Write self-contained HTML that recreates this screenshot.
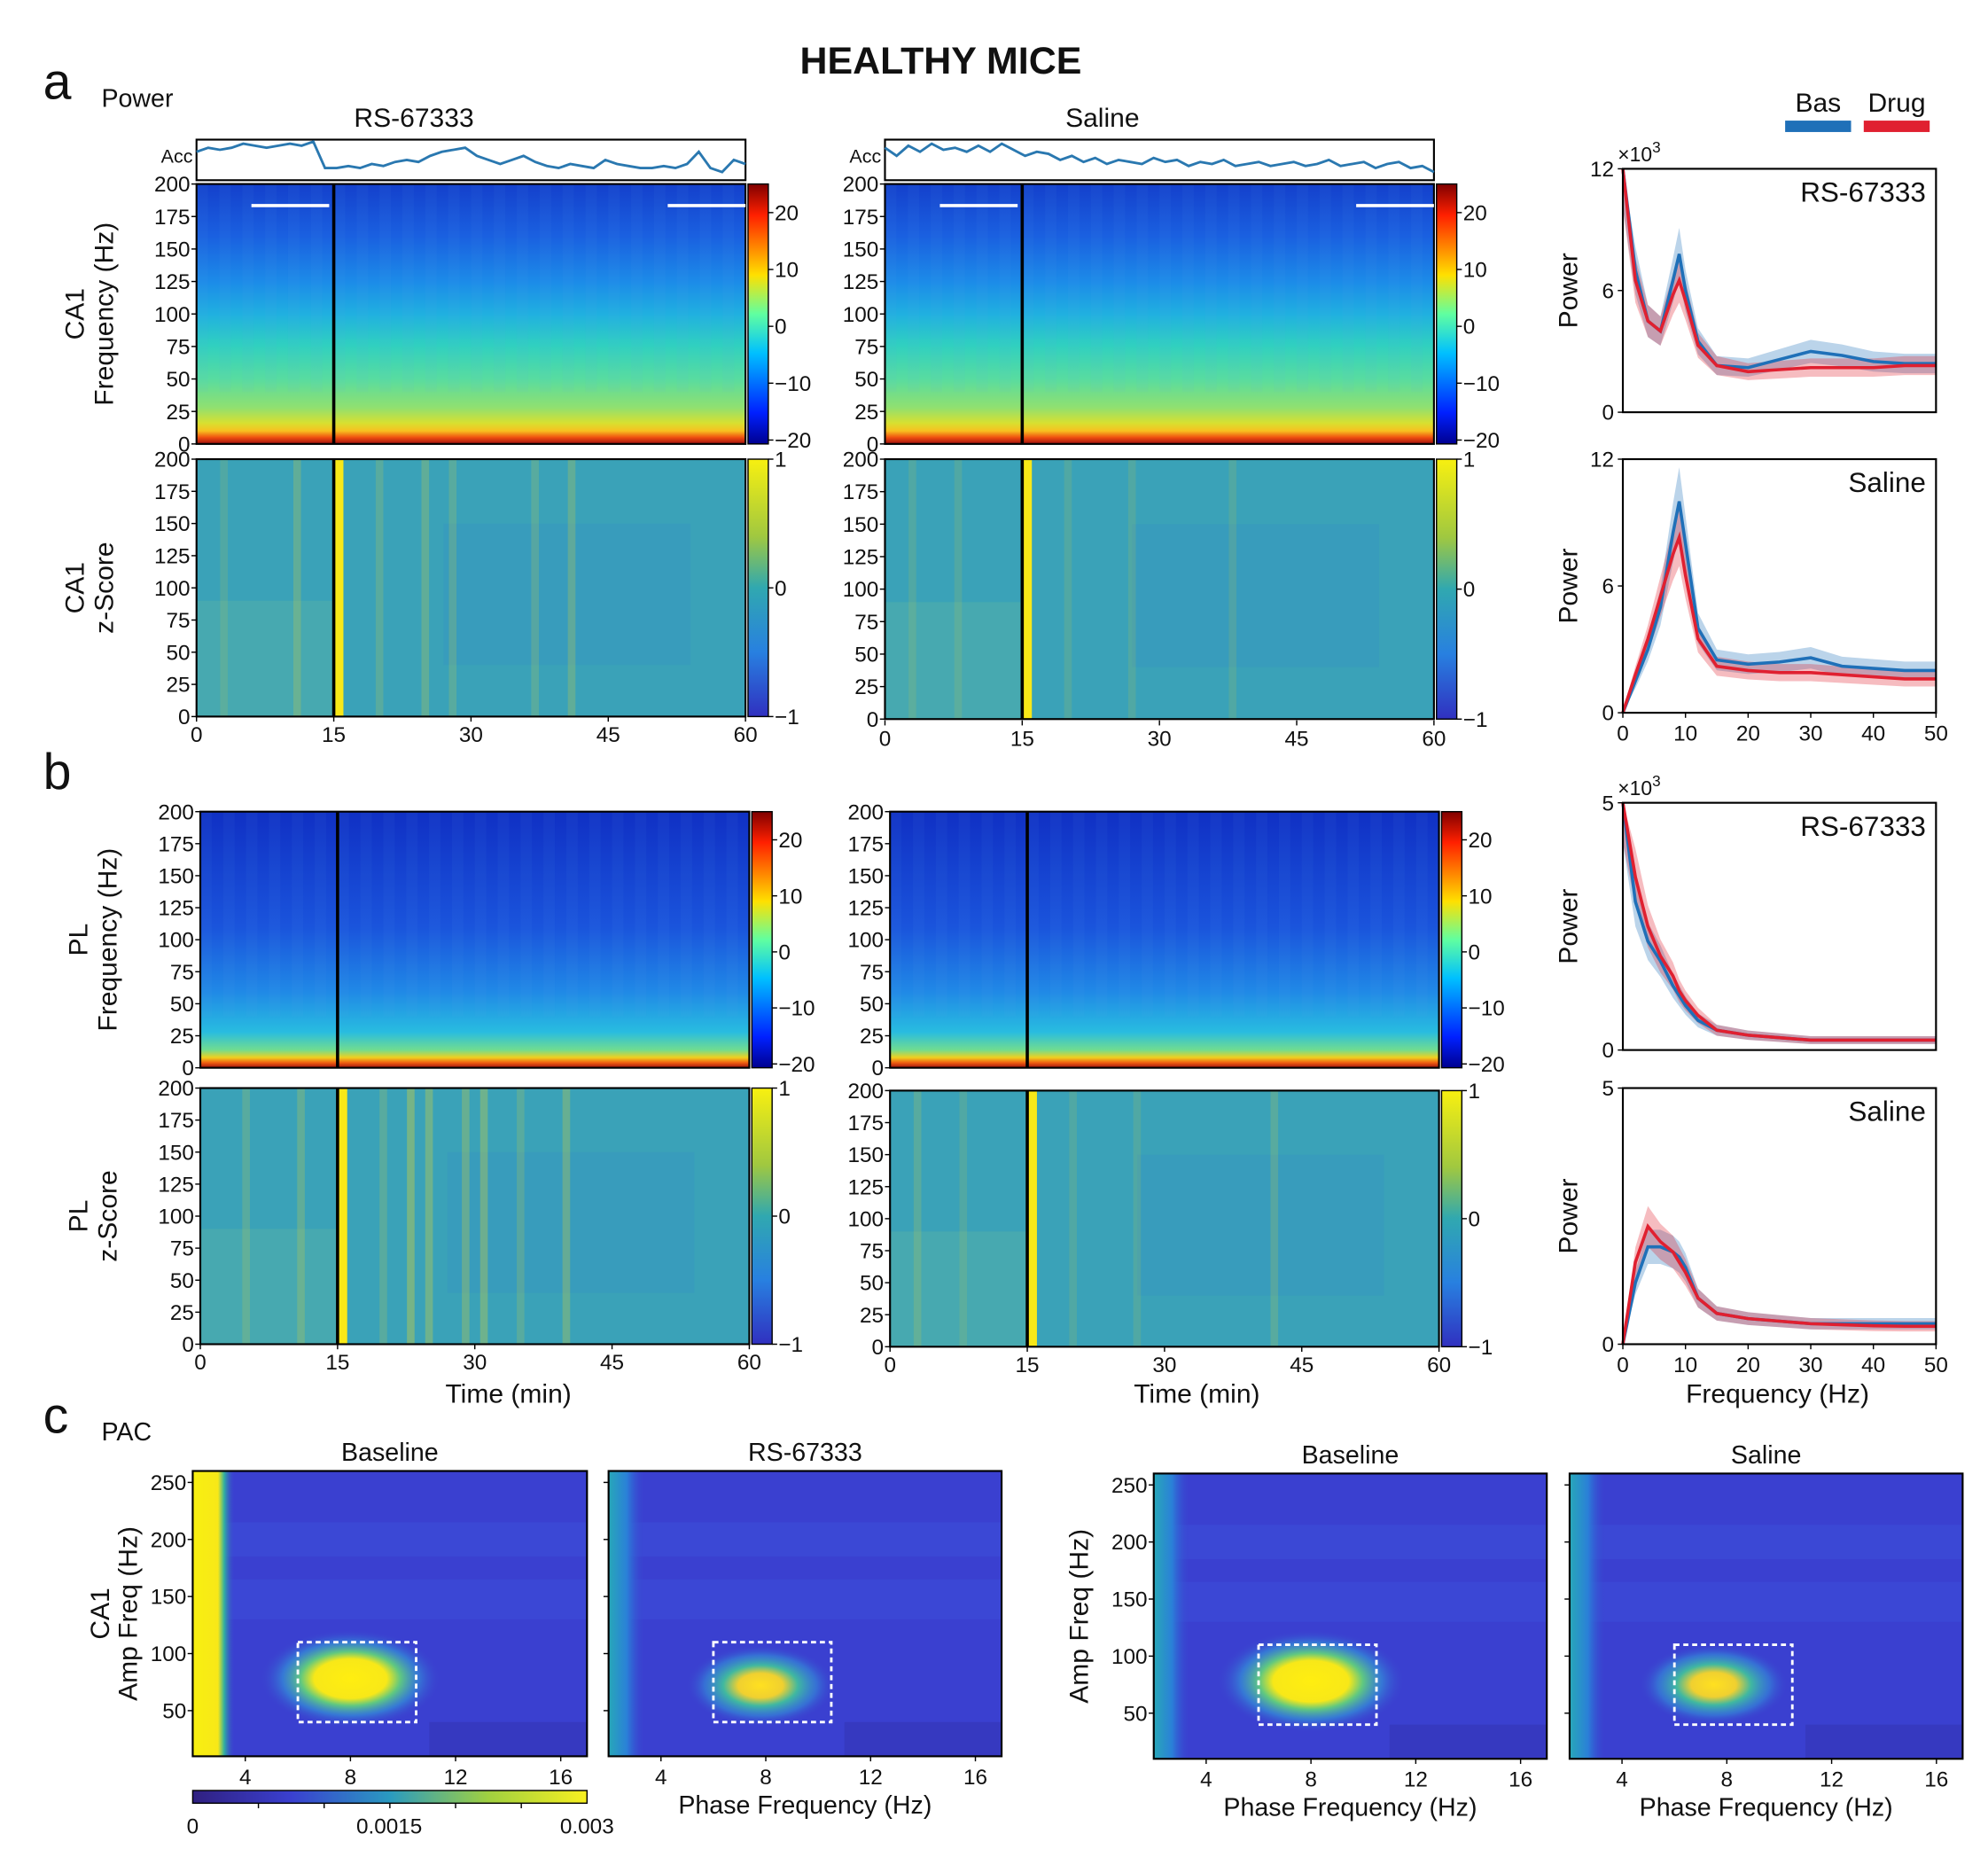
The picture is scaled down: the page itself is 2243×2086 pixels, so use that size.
<!DOCTYPE html>
<html><head><meta charset="utf-8"><style>
html,body{margin:0;padding:0;background:#fff}
svg{display:block}
text{font-family:"Liberation Sans",sans-serif;fill:#111}
</style></head><body>
<svg id="fig" width="2243" height="2086" viewBox="0 0 1568 1458" xmlns="http://www.w3.org/2000/svg">
<defs>
<linearGradient id="gCA1" x1="0" y1="0" x2="0" y2="1">
<stop offset="0" stop-color="#1440cc"/><stop offset="0.2" stop-color="#1a60e0"/><stop offset="0.38" stop-color="#1c8ce8"/><stop offset="0.5" stop-color="#20b0e0"/><stop offset="0.62" stop-color="#30d0c0"/><stop offset="0.75" stop-color="#58dca0"/><stop offset="0.86" stop-color="#90e070"/><stop offset="0.92" stop-color="#d8e030"/><stop offset="0.95" stop-color="#f8c020"/><stop offset="0.975" stop-color="#f05010"/><stop offset="1" stop-color="#a01010"/></linearGradient>
<linearGradient id="gPL" x1="0" y1="0" x2="0" y2="1">
<stop offset="0" stop-color="#1030c4"/><stop offset="0.45" stop-color="#1a54dc"/><stop offset="0.7" stop-color="#2088e6"/><stop offset="0.86" stop-color="#28bce0"/><stop offset="0.93" stop-color="#70dc90"/><stop offset="0.96" stop-color="#f0d020"/><stop offset="0.98" stop-color="#f06010"/><stop offset="1" stop-color="#a01010"/></linearGradient>
<linearGradient id="gJet" x1="0" y1="0" x2="0" y2="1">
<stop offset="0" stop-color="#800000"/><stop offset="0.12" stop-color="#ff2000"/><stop offset="0.35" stop-color="#ffe000"/><stop offset="0.5" stop-color="#60ffa0"/><stop offset="0.65" stop-color="#00c0ff"/><stop offset="0.88" stop-color="#0020ff"/><stop offset="1" stop-color="#000090"/></linearGradient>
<linearGradient id="gZ" x1="0" y1="0" x2="0" y2="1">
<stop offset="0" stop-color="#f8f010"/><stop offset="0.3" stop-color="#a0c840"/><stop offset="0.5" stop-color="#30a8b0"/><stop offset="0.75" stop-color="#2880e0"/><stop offset="1" stop-color="#3030c0"/></linearGradient>
<linearGradient id="gPac" x1="0" y1="0" x2="1" y2="0">
<stop offset="0" stop-color="#302080"/><stop offset="0.25" stop-color="#3a40d0"/><stop offset="0.5" stop-color="#2a9ac0"/><stop offset="0.75" stop-color="#a0d040"/><stop offset="1" stop-color="#f8f020"/></linearGradient>
<radialGradient id="blob1"><stop offset="0" stop-color="#ffee10"/><stop offset="0.4" stop-color="#f8e818"/><stop offset="0.55" stop-color="#60c880"/><stop offset="0.75" stop-color="#3490d8" stop-opacity="0.7"/><stop offset="1" stop-color="#3a40d0" stop-opacity="0"/></radialGradient>
<radialGradient id="blob2"><stop offset="0" stop-color="#ffe020"/><stop offset="0.3" stop-color="#f0d030"/><stop offset="0.5" stop-color="#40b8a0"/><stop offset="0.75" stop-color="#3490d8" stop-opacity="0.6"/><stop offset="1" stop-color="#3a40d0" stop-opacity="0"/></radialGradient>
<linearGradient id="pacEdge1" x1="0" y1="0" x2="1" y2="0"><stop offset="0" stop-color="#f8f010"/><stop offset="0.6" stop-color="#f8e818"/><stop offset="0.75" stop-color="#30b0a0"/><stop offset="1" stop-color="#3a40d0" stop-opacity="0"/></linearGradient>
<linearGradient id="pacEdge2" x1="0" y1="0" x2="1" y2="0"><stop offset="0" stop-color="#28a8b8"/><stop offset="0.5" stop-color="#2a80d8"/><stop offset="1" stop-color="#3a40d0" stop-opacity="0"/></linearGradient>
</defs>
<text x="742" y="58" text-anchor="middle" font-size="30" font-weight="bold">HEALTHY MICE</text>
<text x="34" y="78" font-size="40">a</text>
<text x="80" y="84" font-size="20">Power</text>
<text x="34" y="622" font-size="40">b</text>
<text x="34" y="1130" font-size="40">c</text>
<text x="80" y="1136" font-size="20">PAC</text>
<g id="heat"></g>
<g id="lines"></g>
<g id="pac"></g>
</svg>
<script>
// ---- spectral line chart data ----
const freqs=[0,2,4,6,8,9,10,12,15,20,25,30,35,40,45,50];
const ca1RsBas=[12,7,4.5,4,6.5,7.8,6,3.5,2.3,2.2,2.6,3,2.8,2.5,2.4,2.4];
const ca1RsDrug=[12,6.5,4.5,4,5.8,6.5,5.5,3.3,2.3,2,2.1,2.2,2.2,2.2,2.3,2.3];
const ca1SalBas=[0,1.5,3,5,8.5,10,8,4,2.5,2.3,2.4,2.6,2.2,2.1,2,2];
const ca1SalDrug=[0,1.8,3.5,5.5,7.5,8.3,6.5,3.5,2.2,2,1.9,1.9,1.8,1.7,1.6,1.6];
const plRsBas=[5,3,2.2,1.8,1.3,1.1,0.9,0.6,0.4,0.3,0.25,0.2,0.2,0.2,0.2,0.2];
const plRsDrug=[5,3.5,2.5,1.9,1.5,1.2,1,0.7,0.4,0.3,0.25,0.2,0.2,0.2,0.2,0.2];
const plSalBas=[0,1.2,1.9,1.9,1.8,1.7,1.5,0.9,0.6,0.5,0.45,0.4,0.4,0.4,0.4,0.4];
const plSalDrug=[0,1.6,2.3,2.0,1.8,1.6,1.4,0.9,0.6,0.5,0.45,0.4,0.38,0.36,0.35,0.35];
const xTicks=[0,10,20,30,40,50];
// ---- heatmap annotation data ----
const timeTicks=[0,15,30,45,60];
const freqTicks=[0,25,50,75,100,125,150,175,200];
const powerCbTicks=[20,10,0,-10,-20];
const zCbTicks=[1,0,-1];
const accRs=[0.7,0.8,0.75,0.8,0.9,0.85,0.8,0.85,0.9,0.85,0.95,0.3,0.3,0.35,0.3,0.4,0.35,0.45,0.5,0.45,0.6,0.7,0.75,0.8,0.6,0.5,0.4,0.5,0.6,0.45,0.35,0.3,0.4,0.35,0.3,0.5,0.4,0.35,0.3,0.3,0.35,0.3,0.4,0.7,0.3,0.2,0.5,0.4];
const accSal=[0.8,0.6,0.85,0.7,0.9,0.75,0.8,0.7,0.85,0.7,0.9,0.75,0.6,0.7,0.65,0.5,0.6,0.45,0.55,0.4,0.5,0.45,0.4,0.55,0.45,0.5,0.35,0.45,0.4,0.5,0.35,0.4,0.45,0.35,0.4,0.45,0.35,0.4,0.5,0.35,0.4,0.45,0.3,0.4,0.45,0.3,0.35,0.2];
const zStripesCA1Rs=[[3,0.3],[11,0.5],[15.5,1],[20,0.4],[25,0.5],[28,0.4],[37,0.4],[41,0.5]];
const zStripesCA1Sal=[[3,0.3],[8,0.3],[15.5,1],[20,0.3],[27,0.3],[38,0.3]];
const zStripesPLRs=[[5,0.4],[11,0.5],[15.5,1],[20,0.4],[23,0.8],[25,0.7],[29,0.6],[31,0.7],[35,0.4],[40,0.6]];
const zStripesPLSal=[[3,0.4],[8,0.3],[15.5,1],[20,0.3],[27,0.3],[42,0.4]];
const pacXTicks=[4,8,12,16];
const pacYTicks=[50,100,150,200,250];
const pacPeaks=[{f:8,a:78,s:1.15},{f:7.8,a:72,s:0.95},{f:8,a:78,s:1.2},{f:7.5,a:75,s:0.95}];

const NS="http://www.w3.org/2000/svg";
function mk(p,t,a,txt){const e=document.createElementNS(NS,t);for(const k in a)e.setAttribute(k,a[k]);if(txt!==undefined)e.textContent=txt;p.appendChild(e);return e;}
const heat=document.getElementById('heat'),lines=document.getElementById('lines'),pac=document.getElementById('pac');

function spectro(x,y,w,h,kind,stripes,name,yTitle1,yTitle2){
  const g=mk(heat,'g',{});
  
  
  const tx=t=>x+t/60*w, fy=f=>y+h-f/200*h;
  if(kind==='z'){
    mk(g,'rect',{x:x,y:y,width:w,height:h,fill:'#3aa2b8'});
    mk(g,'rect',{x:x,y:y+h*0.55,width:w*0.25,height:h*0.45,fill:'#60b8a0',opacity:0.35});
    mk(g,'rect',{x:x+w*0.45,y:y+h*0.25,width:w*0.45,height:h*0.55,fill:'#3080d8',opacity:0.15});
    stripes.forEach(s=>{const r=mk(g,'rect',{x:tx(s[0])-(s[1]>0.9?4:3),y:y,width:s[1]>0.9?8:6,height:h,fill:s[1]>0.9?'#f8e818':'#b8c850',opacity:s[1]>0.9?1:s[1]*0.6});});
  } else {
    mk(g,'rect',{x:x,y:y,width:w,height:h,fill:kind==='ca1'?'url(#gCA1)':'url(#gPL)'});
    for(let i=0;i<24;i++){mk(g,'rect',{x:x+i*w/24,y:y,width:w/48,height:h*0.8,fill:'#60b0f0',opacity:0.06});}
  }
  mk(g,'line',{x1:tx(15),y1:y,x2:tx(15),y2:y+h,stroke:'#000','stroke-width':2.5});
  mk(g,'rect',{x:x,y:y,width:w,height:h,fill:'none',stroke:'#000','stroke-width':1.5});
  freqTicks.forEach(f=>{mk(g,'line',{x1:x-4,y1:fy(f),x2:x,y2:fy(f),stroke:'#000'});
    const t=mk(g,'text',{x:x-5,y:fy(f)+6,'text-anchor':'end','font-size':17},String(f));});
  const yt=mk(g,'text',{transform:`translate(${x-85},${y+h/2}) rotate(-90)`,'text-anchor':'middle','font-size':21},'');
  
  if(yTitle1){mk(yt,'tspan',{x:0,dy:-4},yTitle1);mk(yt,'tspan',{x:0,dy:23},yTitle2);}
  const cx=x+w+2,cw=16;
  mk(g,'rect',{x:cx,y:y,width:cw,height:h,fill:kind==='z'?'url(#gZ)':'url(#gJet)'});
  mk(g,'rect',{x:cx,y:y,width:cw,height:h,fill:'none',stroke:'#000','stroke-width':1});
  const ticks=kind==='z'?zCbTicks:powerCbTicks, lo=ticks[ticks.length-1], hi=ticks[0];
  ticks.forEach(v=>{const yy=kind==='z'? y+(hi-v)/(hi-lo)*h : y+h*0.11+(hi-v)/(hi-lo)*h*0.875;
    mk(g,'line',{x1:cx+cw,y1:yy,x2:cx+cw+4,y2:yy,stroke:'#000'});
    const t=mk(g,'text',{x:cx+cw+5,y:yy+6,'font-size':17},String(v).replace('-','\u2212'));});
  return {tx,g};
}
function timeAxis(x,y,w){
  timeTicks.forEach(t=>{const xx=x+t/60*w;mk(heat,'line',{x1:xx,y1:y,x2:xx,y2:y+4,stroke:'#000'});
    const e=mk(heat,'text',{x:xx,y:y+20,'text-anchor':'middle','font-size':17},String(t));});
}
function acc(x,y,w,h,vals,title){
  const g=mk(heat,'g',{});
  mk(g,'rect',{x:x,y:y,width:w,height:h,fill:'#fff',stroke:'#000','stroke-width':1.5});
  const pts=vals.map((v,i)=>`${x+i/(vals.length-1)*w},${y+h-v*h}`).join(' ');
  mk(g,'polyline',{points:pts,fill:'none',stroke:'#2a78b0','stroke-width':2});
  mk(g,'text',{x:x-3,y:y+18,'text-anchor':'end','font-size':15},'Acc');
  const t=mk(heat,'text',{x:x+w/2-45,y:y-10,'text-anchor':'middle','font-size':21},title);
}
const L1=155,L2=698,W=433;
acc(L1,110,W,32,accRs,'RS-67333');acc(L2,110,W,32,accSal,'Saline');
let s=spectro(L1,145,W,205,'ca1',null,'ca1-power-rs','CA1','Frequency (Hz)');
mk(heat,'line',{x1:s.tx(6),y1:162,x2:s.tx(14.5),y2:162,stroke:'#fff','stroke-width':2.5});mk(heat,'line',{x1:s.tx(51.5),y1:162,x2:s.tx(60),y2:162,stroke:'#fff','stroke-width':2.5});
s=spectro(L2,145,W,205,'ca1',null,'ca1-power-saline');
mk(heat,'line',{x1:s.tx(6),y1:162,x2:s.tx(14.5),y2:162,stroke:'#fff','stroke-width':2.5});mk(heat,'line',{x1:s.tx(51.5),y1:162,x2:s.tx(60),y2:162,stroke:'#fff','stroke-width':2.5});
spectro(L1,362,W,203,'z',zStripesCA1Rs,'ca1-zscore-rs','CA1','z-Score');
spectro(L2,362,W,205,'z',zStripesCA1Sal,'ca1-zscore-saline');
timeAxis(L1,565,W);timeAxis(L2,568,W);
spectro(158,640,W,202,'pl',null,'pl-power-rs','PL','Frequency (Hz)');
spectro(702,640,W,202,'pl',null,'pl-power-saline');
spectro(158,858,W,202,'z',zStripesPLRs,'pl-zscore-rs','PL','z-Score');
spectro(702,860,W,202,'z',zStripesPLSal,'pl-zscore-saline');
timeAxis(158,1060,W);timeAxis(702,1062,W);
[[401,'x-axis-title-rs'],[944,'x-axis-title-saline']].forEach(a=>{const t=mk(heat,'text',{x:a[0],y:1106,'text-anchor':'middle','font-size':21},'Time (min)');});

function lineChart(x,y,w,h,ymax,bas,drug,label,ticks,showExp,showX,name){
  const g=mk(lines,'g',{});
  const sx=f=>x+f/50*w, sy=v=>y+h-Math.min(v,ymax)/ymax*h;
  function band(arr,col){
    const up=arr.map((v,i)=>`${sx(freqs[i])},${sy(v*1.15+ymax*0.01)}`), dn=arr.map((v,i)=>`${sx(freqs[i])},${sy(Math.max(0,v*0.85-ymax*0.01))}`).reverse();
    mk(g,'polygon',{points:up.concat(dn).join(' '),fill:col,opacity:0.3});
  }
  band(bas,'#1f70b8');band(drug,'#e02030');
  const b=mk(g,'polyline',{points:bas.map((v,i)=>`${sx(freqs[i])},${sy(v)}`).join(' '),fill:'none',stroke:'#1f70b8','stroke-width':2.5});
  
  const d=mk(g,'polyline',{points:drug.map((v,i)=>`${sx(freqs[i])},${sy(v)}`).join(' '),fill:'none',stroke:'#e02030','stroke-width':2.5});
  
  mk(g,'rect',{x:x,y:y,width:w,height:h,fill:'none',stroke:'#000','stroke-width':1.5});
  ticks.forEach(v=>{mk(g,'line',{x1:x-4,y1:sy(v),x2:x,y2:sy(v),stroke:'#000'});mk(g,'text',{x:x-7,y:sy(v)+6,'text-anchor':'end','font-size':17},String(v));});
  mk(g,'text',{x:x+w-8,y:y+26,'text-anchor':'end','font-size':22},label);
  const yt=mk(g,'text',{transform:`translate(${x-36},${y+h/2}) rotate(-90)`,'text-anchor':'middle','font-size':21},'Power');
  
  if(showExp){const e=mk(g,'text',{x:x-4,y:y-6,'font-size':16},'\u00d710');mk(e,'tspan',{dy:-7,'font-size':12},'3');}
  if(showX) xTicks.forEach(f=>{mk(g,'line',{x1:sx(f),y1:y+h,x2:sx(f),y2:y+h+4,stroke:'#000'});const t=mk(g,'text',{x:sx(f),y:y+h+22,'text-anchor':'middle','font-size':17},String(f));});
}
const RX=1280,RW=247;
lineChart(RX,133,RW,192,12,ca1RsBas,ca1RsDrug,'RS-67333',[0,6,12],true,false,'ca1-spectrum-rs');
lineChart(RX,362,RW,200,12,ca1SalBas,ca1SalDrug,'Saline',[0,6,12],false,true,'ca1-spectrum-saline');
lineChart(RX,633,RW,195,5,plRsBas,plRsDrug,'RS-67333',[0,5],true,false,'pl-spectrum-rs');
lineChart(RX,858,RW,202,5,plSalBas,plSalDrug,'Saline',[0,5],false,true,'pl-spectrum-saline');
{const t=mk(lines,'text',{x:1402,y:1106,'text-anchor':'middle','font-size':21},'Frequency (Hz)');}
[[1408,'#1f70b8','Bas','legend-baseline'],[1470,'#e02030','Drug','legend-drug']].forEach(l=>{
  const g=mk(lines,'g',{});
  mk(g,'rect',{x:l[0],y:95,width:52,height:9,fill:l[1]});
  mk(g,'text',{x:l[0]+26,y:88,'text-anchor':'middle','font-size':21},l[2]);
});

function pacMap(x,y,w,h,peak,strongEdge,title,showY,ylab1,ylab2,showXTitle,name){
  const g=mk(pac,'g',{});
  const fx=f=>x+(f-2)/15*w, ay=a=>y+h-(a-10)/250*h;
  mk(g,'rect',{x:x,y:y,width:w,height:h,fill:'#3a40d0'});
  mk(g,'rect',{x:x,y:ay(215),width:w,height:ay(185)-ay(215),fill:'#4058e0',opacity:0.35});
  mk(g,'rect',{x:x,y:ay(165),width:w,height:ay(130)-ay(165),fill:'#4058e0',opacity:0.3});
  mk(g,'rect',{x:fx(11),y:ay(40),width:w-(fx(11)-x),height:ay(10)-ay(40),fill:'#302a9a',opacity:0.3});
  mk(g,'rect',{x:x,y:y,width:strongEdge?fx(3.6)-x:fx(3.4)-x,height:h,fill:strongEdge?'url(#pacEdge1)':'url(#pacEdge2)'});
  const b=mk(g,'ellipse',{cx:fx(peak.f),cy:ay(peak.a),rx:w*0.2*peak.s,ry:h*0.15*peak.s,fill:peak.s>1.05?'url(#blob1)':'url(#blob2)'});
  
  const r=mk(g,'rect',{x:fx(6),y:ay(110),width:fx(10.5)-fx(6),height:ay(40)-ay(110),fill:'none',stroke:'#fff','stroke-width':2,'stroke-dasharray':'4 3'});
  
  mk(g,'rect',{x:x,y:y,width:w,height:h,fill:'none',stroke:'#000','stroke-width':1.5});
  pacXTicks.forEach(f=>{mk(g,'line',{x1:fx(f),y1:y+h,x2:fx(f),y2:y+h+4,stroke:'#000'});mk(g,'text',{x:fx(f),y:y+h+22,'text-anchor':'middle','font-size':17},String(f));});
  pacYTicks.forEach(a=>{mk(g,'line',{x1:x-4,y1:ay(a),x2:x,y2:ay(a),stroke:'#000'});if(showY)mk(g,'text',{x:x-5,y:ay(a)+6,'text-anchor':'end','font-size':17},String(a));});
  const t=mk(g,'text',{x:x+w/2,y:y-8,'text-anchor':'middle','font-size':20},title);
  if(ylab1||ylab2){const yt=mk(g,'text',{transform:`translate(${x-58},${y+h/2}) rotate(-90)`,'text-anchor':'middle','font-size':21},'');
    if(ylab1){mk(yt,'tspan',{x:0,dy:-8},ylab1);mk(yt,'tspan',{x:0,dy:22},ylab2);}else mk(yt,'tspan',{x:0,dy:6},ylab2);}
  if(showXTitle){const xt=mk(g,'text',{x:x+w/2,y:y+h+45,'text-anchor':'middle','font-size':20},'Phase Frequency (Hz)');}
}
pacMap(152,1160,311,225,pacPeaks[0],true,'Baseline',true,'CA1','Amp Freq (Hz)',false,'pac-rs-baseline');
pacMap(480,1160,310,225,pacPeaks[1],false,'RS-67333',false,null,null,true,'pac-rs-drug');
pacMap(910,1162,310,225,pacPeaks[2],false,'Baseline',true,null,'Amp Freq (Hz)',true,'pac-sal-baseline');
pacMap(1238,1162,310,225,pacPeaks[3],false,'Saline',false,null,null,true,'pac-sal-drug');
{const g=mk(pac,'g',{});
 mk(g,'rect',{x:152,y:1412,width:311,height:10,fill:'url(#gPac)',stroke:'#000','stroke-width':1});
 for(let i=1;i<6;i++)mk(g,'line',{x1:152+i*311/6,y1:1422,x2:152+i*311/6,y2:1426,stroke:'#000'});
 [['0',152],['0.0015',307],['0.003',463]].forEach(l=>mk(g,'text',{x:l[1],y:1446,'text-anchor':'middle','font-size':17},l[0]));}
</script>
</body></html>
